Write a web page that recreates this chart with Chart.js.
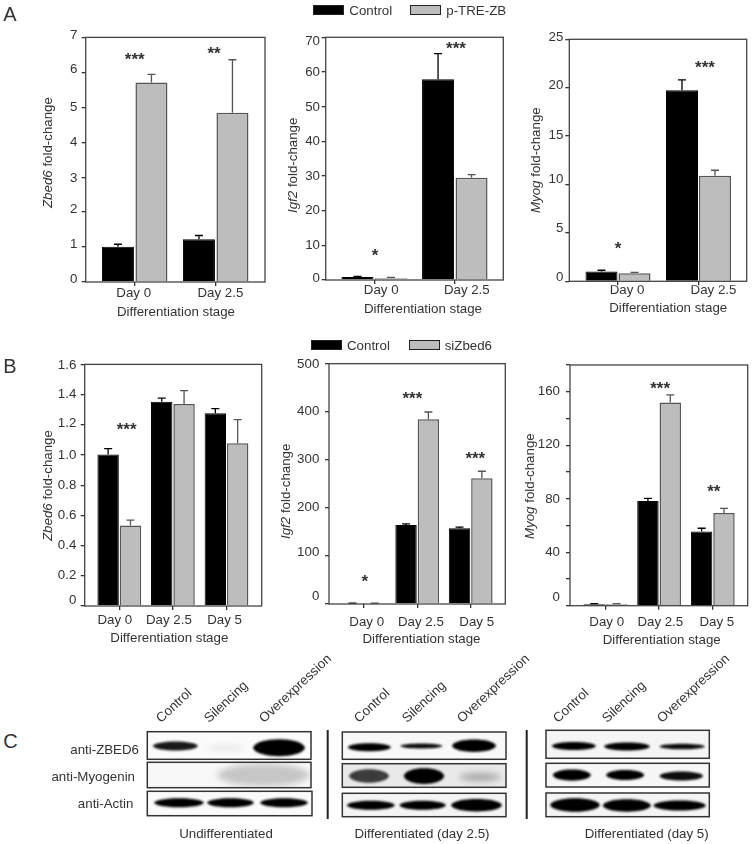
<!DOCTYPE html>
<html>
<head>
<meta charset="utf-8">
<script src="https://cdn.jsdelivr.net/npm/chart.js@4"></script>
<style>
  html, body { margin: 0; background: #fff; }
  #page { position: relative; width: 752px; height: 844px; overflow: hidden; }
  canvas { position: absolute; }
  .t { position: absolute; white-space: nowrap; line-height: 1; color: #333;
       font: 13.3px "Liberation Sans", Arial, sans-serif; }
  .letter { font-size: 20px; }
  .swatch { position: absolute; box-sizing: border-box; height: 10px; border: 1.5px solid #222; }
</style>
</head>
<body>
<div id="page"></div>
<script>
// x categories
const daysA = ['Day 0', 'Day 2.5'];
const daysB = ['Day 0', 'Day 2.5', 'Day 5'];
const seriesA = ['Control', 'p-TRE-ZB'];
const seriesB = ['Control', 'siZbed6'];

// panel A values
const zbedAControl = [1.01, 1.22];
const zbedAOver = [5.71, 4.84];
const zbedAControlErr = [0.07, 0.11];
const zbedAOverErr = [0.23, 1.52];
const igfAControl = [0.9, 57.9];
const igfAOver = [0.5, 29.5];
const igfAControlErr = [0.15, 7.4];
const igfAOverErr = [0.25, 0.9];
const myogAControl = [1.0, 19.73];
const myogAOver = [0.83, 10.9];
const myogAControlErr = [0.14, 1.07];
const myogAOverErr = [0.1, 0.57];

// panel B values
const zbedBControl = [1.003, 1.353, 1.276];
const zbedBSi = [0.533, 1.338, 1.078];
const zbedBControlErr = [0.039, 0.024, 0.031];
const zbedBSiErr = [0.036, 0.088, 0.156];
const igfBControl = [1.5, 164.6, 157.7];
const igfBSi = [1.5, 384.3, 261.7];
const igfBControlErr = [0.5, 2.1, 2.1];
const igfBSiErr = [0.5, 15.2, 14.5];
const myogBControl = [1, 78.2, 55.4];
const myogBSi = [1, 152, 69.3];
const myogBControlErr = [0.5, 2, 2.5];
const myogBSiErr = [0.5, 5.7, 3.5];

// y ticks and their labels
const zbedATicks = [0, 1, 2, 3, 4, 5, 6, 7];
const igfATicks = [0, 10, 20, 30, 40, 50, 60, 70];
const myogATicks = [0, 5, 10, 15, 20, 25];
const zbedBTicks = [0, 0.2, 0.4, 0.6, 0.8, 1, 1.2, 1.4, 1.6];
const zbedBLabels = ['0', '0.2', '0.4', '0.6', '0.8', '1.0', '1.2', '1.4', '1.6'];
const igfBTicks = [0, 100, 200, 300, 400, 500];
const myogBTicks = [0, 20, 40, 60, 80, 100, 120, 140, 160, 180];
const myogBLabelled = [0, 40, 80, 120, 160];

// significance marks: category, value, text
const zbedAStars = [[0, 6.44, '***'], [0.98, 6.59, '**']];
const igfAStars = [[0.01, 7.8, '*'], [1.015, 67.5, '***']];
const myogAStars = [[0, 3.65, '*'], [1.08, 22.3, '***']];
const zbedBStars = [[0.137, 1.183, '***']];
const igfBStars = [[0.02, 52, '*'], [0.91, 432, '***'], [2.086, 308, '***']];
const myogBStars = [[1.02, 164.4, '***'], [2.02, 87.4, '**']];

// layout of each plot, plot = left, top, right, bottom in page pixels
const panels = [
  { plot: [85.7, 37.3, 265, 282], c0: 134.7, step: 81, group: 67, bar: 32, cats: daysA,
    control: zbedAControl, treated: zbedAOver, controlErr: zbedAControlErr, treatedErr: zbedAOverErr,
    names: seriesA, yMax: 7, yTicks: zbedATicks, yLabelled: zbedATicks,
    yNudge: [-2.7, -2.7, -2.7, 0.7, -0.3, 0, -3, -2.3], yPad: 4.4, xNudge: [-1, 4.7], xPad: -1,
    stars: zbedAStars, gene: 'Zbed6', yTitle: [47, 153], xTitle: [176, 311] },
  { plot: [325.7, 37.3, 503.3, 280], c0: 374.2, step: 80.6, group: 67, bar: 32, cats: daysA,
    control: igfAControl, treated: igfAOver, controlErr: igfAControlErr, treatedErr: igfAOverErr,
    names: seriesA, yMax: 70, yTicks: igfATicks, yLabelled: igfATicks,
    yNudge: [-1.7, 0.3, 0, 0.7, 0.3, 0.7, 0.3, 4], yPad: 1.7, xNudge: [7, 12], xPad: -2,
    stars: igfAStars, gene: 'Igf2', yTitle: [291.7, 165], xTitle: [423, 307.7] },
  { plot: [569.3, 39.3, 746.7, 281.3], c0: 618, step: 80.5, group: 66, bar: 32, cats: daysA,
    control: myogAControl, treated: myogAOver, controlErr: myogAControlErr, treatedErr: myogAOverErr,
    names: seriesA, yMax: 25, yTicks: myogATicks, yLabelled: myogATicks,
    yNudge: [-3.7, -4.7, -4.7, -1, -2.7, -1.7], yPad: 2, xNudge: [9, 15], xPad: -3,
    stars: myogAStars, gene: 'Myog', yTitle: [535, 160], xTitle: [668.2, 307.3] },
  { plot: [84.7, 364, 261.7, 606], c0: 119.3, step: 53.6, group: 44.7, bar: 21.4, cats: daysB,
    control: zbedBControl, treated: zbedBSi, controlErr: zbedBControlErr, treatedErr: zbedBSiErr,
    names: seriesB, yMax: 1.6, yTicks: zbedBTicks, yLabelled: zbedBTicks, yText: zbedBLabels,
    yNudge: [-5.3, -0.3, -0.3, -0.3, -0.3, 0.3, -1, -0.3, 1], yPad: 4.4, xNudge: [-4.5, -4, -2], xPad: 2,
    stars: zbedBStars, gene: 'Zbed6', yTitle: [47, 486], xTitle: [169.3, 637.3] },
  { plot: [329, 362, 505.3, 604], c0: 363.7, step: 53.5, group: 44.7, bar: 21.4, cats: daysB,
    control: igfBControl, treated: igfBSi, controlErr: igfBControlErr, treatedErr: igfBSiErr,
    names: seriesB, yMax: 500, yTicks: igfBTicks, yLabelled: igfBTicks,
    yNudge: [-7.3, -4, -0.7, 0, 0, 0.7], yPad: 5.7, xNudge: [3, 3.7, 6], xPad: 6,
    stars: igfBStars, gene: 'Igf2', yTitle: [285, 491], xTitle: [421.5, 638.3] },
  { plot: [570, 363.3, 747.7, 605.7], c0: 605.4, step: 53.7, group: 44.7, bar: 21.4, cats: daysB,
    control: myogBControl, treated: myogBSi, controlErr: myogBControlErr, treatedErr: myogBSiErr,
    names: seriesB, yMax: 180, yTicks: myogBTicks, yLabelled: myogBLabelled,
    yNudge: [-8, 0, 0.3, -0.7, -0.3], yPad: 6, xNudge: [1.3, 1.2, 4], xPad: 4.5,
    stars: myogBStars, gene: 'Myog', yTitle: [528.7, 486], xTitle: [661.7, 638.7] }
];

// western blot rows: x0, x1, top, bottom, background
const blotFrames = [
  [147.3, 311, 731.7, 759.3, '#fbfbfb'], [147.3, 311, 762.3, 787.7, '#f8f8f8'], [147.3, 312, 791.3, 815.7, '#fafafa'],
  [342.3, 506, 732, 759.3, '#f8f8f8'], [342.3, 506, 763.7, 787.3, '#e9e9e9'], [342.3, 506, 793.3, 816.7, '#f4f4f4'],
  [546, 709.3, 730.3, 758.3, '#f5f5f5'], [546, 709.3, 763.3, 787, '#f7f7f7'], [546, 709.3, 793, 816.7, '#f4f4f4']
];
// blot bands: x0, x1, centre y, height, darkness
const blotBands = [
  [152.7, 198, 746, 8, 0.9], [205, 245, 748, 4, 0.1], [253, 305, 747.7, 15, 1],
  [217, 310, 775, 20, 0.2], [154, 204, 802.7, 8, 1], [207, 254, 802.7, 8, 1], [260, 308, 802.7, 8, 1],
  [347.7, 391, 747.3, 7, 1], [400, 442.7, 746, 4.5, 0.95], [452, 496, 745.7, 11, 1],
  [349, 389, 776, 12, 0.75], [403.7, 444.3, 776, 14, 1], [459, 501, 777, 7, 0.28],
  [346.7, 395, 805.3, 8, 1], [399.3, 446, 805.3, 8, 1], [451, 502, 805.3, 11, 1],
  [551.7, 596, 746, 7, 1], [604, 650, 746.5, 7, 1], [659.3, 705, 746.5, 5, 0.95],
  [552.7, 591, 775, 10, 1], [606, 644.3, 775, 9, 1], [659.3, 703.3, 776, 8, 0.95],
  [550, 600, 805, 12, 1], [602.7, 651, 805.5, 11, 1], [653.3, 706, 805.5, 9, 1]
];
const blotDividers = [327.7, 526.7];
const blotLanes = ['Control', 'Silencing', 'Overexpression'];
const blotLaneAnchors = [[158, 720], [206, 720], [261, 720], [356, 720], [404, 720], [459, 720], [555, 720], [604, 720], [659, 720]];
const blotRowNames = [['anti-ZBED6', 139, 749], ['anti-Myogenin', 135, 776], ['anti-Actin', 133.3, 803.3]];
const blotCaptions = [['Undifferentiated', 226], ['Differentiated (day 2.5)', 422], ['Differentiated (day 5)', 646.7]];

const page = document.getElementById('page');
const inkColor = '#333';
const frameColor = '#444';
const greyFill = '#bdbdbd';
const greyEdge = '#555';

Chart.defaults.font.family = '"Liberation Sans", Arial, sans-serif';
Chart.defaults.font.size = 13.3;
Chart.defaults.color = inkColor;

function addText(html, x, y, transform, cls) {
  const el = document.createElement('div');
  el.className = 't' + (cls ? ' ' + cls : '');
  el.innerHTML = html;
  el.style.left = x + 'px';
  el.style.top = y + 'px';
  el.style.transform = transform || 'translate(-50%,-50%)';
  page.appendChild(el);
  return el;
}

// rotated title centred on x, y, snapped to whole pixels so it stays thin
function addYTitle(html, x, y) {
  const el = addText(html, 0, 0, 'none');
  const len = el.getBoundingClientRect().width;
  el.style.transformOrigin = '0 0';
  el.style.left = Math.round(x - 7) + 'px';
  el.style.top = Math.round(y + len / 2) + 'px';
  el.style.transform = 'rotate(-90deg)';
}

function addLegend(names, y, x1, x2) {
  [x1, x2].forEach((x, i) => {
    const sw = document.createElement('div');
    sw.className = 'swatch';
    sw.style.cssText = `left:${x}px;top:${y - 5}px;width:31px;background:${i ? greyFill : '#000'}`;
    page.appendChild(sw);
    addText(names[i], x + 36, y, 'translate(0,-50%)');
  });
}

// frame, error bars and stars are drawn through the chart's own scales
const extras = {
  id: 'extras',
  afterDatasetsDraw(chart, args, opts) {
    const { ctx, chartArea: a, scales: { x, y } } = chart;
    ctx.save();
    ctx.lineWidth = 1.3;
    [opts.controlErr, opts.treatedErr].forEach((errs, d) => {
      ctx.strokeStyle = d ? greyEdge : '#000';
      chart.getDatasetMeta(d).data.forEach((bar, i) => {
        const val = chart.data.datasets[d].data[i].y;
        const py = y.getPixelForValue(val + errs[i]);
        ctx.beginPath();
        ctx.moveTo(bar.x, y.getPixelForValue(val));
        ctx.lineTo(bar.x, py);
        ctx.moveTo(bar.x - 4, py);
        ctx.lineTo(bar.x + 4, py);
        ctx.stroke();
      });
    });
    ctx.strokeStyle = frameColor;
    ctx.strokeRect(a.left, a.top, a.right - a.left, a.bottom - a.top);
    ctx.fillStyle = inkColor;
    ctx.font = 'bold 17px "Liberation Sans", Arial, sans-serif';
    ctx.textAlign = 'center';
    ctx.textBaseline = 'middle';
    opts.stars.forEach(s => ctx.fillText(s[2], x.getPixelForValue(s[0]), y.getPixelForValue(s[1]) + 3));
    ctx.restore();
  }
};

function fixedTicks(values) {
  return scale => { scale.ticks = values.map(v => ({ value: v })); };
}

function makePanel(p) {
  const [l, t, r, b] = p.plot;
  const room = { left: 60, top: 12, right: 4, bottom: 30 };
  const cx = Math.floor(l - room.left), cy = Math.floor(t - room.top);
  const w = Math.ceil(r + room.right) - cx, h = Math.ceil(b + room.bottom) - cy;
  const cv = document.createElement('canvas');
  cv.width = w; cv.height = h;
  cv.style.left = cx + 'px'; cv.style.top = cy + 'px';
  page.appendChild(cv);

  const xMin = -(p.c0 - l) / p.step, xMax = (r - p.c0) / p.step;
  const perPx = p.yMax / (b - t);
  const xLabelPos = p.cats.map((c, i) => i + p.xNudge[i] / p.step);
  const yLabelPos = p.yLabelled.map((v, i) => v - p.yNudge[i] * perPx);
  const catIdx = p.cats.map((c, i) => i);
  const rows = vals => vals.map((v, i) => ({ x: i, y: v }));
  const tick = { color: inkColor, drawOnChartArea: false, tickLength: 4, lineWidth: 1.3, offset: false };
  const off = { display: false, drawTicks: false, offset: false };

  new Chart(cv, {
    type: 'bar',
    data: {
      datasets: [
        { label: p.names[0], data: rows(p.control), backgroundColor: '#000', borderColor: '#000', borderWidth: 1 },
        { label: p.names[1], data: rows(p.treated), backgroundColor: greyFill, borderColor: greyEdge, borderWidth: 1.5 }
      ]
    },
    options: {
      responsive: false,
      animation: false,
      categoryPercentage: p.group / p.step,
      barPercentage: p.bar / (p.group / 2),
      layout: { padding: { left: 0, top: t - cy, right: cx + w - r, bottom: 0 } },
      plugins: {
        legend: { display: false },
        tooltip: { enabled: false },
        extras: { controlErr: p.controlErr, treatedErr: p.treatedErr, stars: p.stars }
      },
      scales: {
        x: {
          type: 'linear', min: xMin, max: xMax, offset: false, weight: 0,
          grid: tick, border: { display: false }, ticks: { display: false },
          afterBuildTicks: fixedTicks(catIdx),
          afterFit: s => { s.height = 4; }
        },
        xLabel: {
          type: 'linear', axis: 'x', position: 'bottom', min: xMin, max: xMax, offset: false, weight: 1,
          grid: off, border: { display: false },
          ticks: { padding: p.xPad, maxRotation: 0, autoSkip: false, callback: (v, i) => p.cats[i] },
          afterBuildTicks: fixedTicks(xLabelPos),
          afterFit: s => { s.height = cy + h - b - 4; }
        },
        y: {
          type: 'linear', min: 0, max: p.yMax, weight: 0,
          grid: tick, border: { display: false }, ticks: { display: false },
          afterBuildTicks: fixedTicks(p.yTicks),
          afterFit: s => { s.width = 4; }
        },
        yLabel: {
          type: 'linear', axis: 'y', position: 'left', min: 0, max: p.yMax, weight: 1,
          grid: off, border: { display: false },
          ticks: { padding: p.yPad, autoSkip: false, callback: (v, i) => (p.yText || p.yLabelled)[i] },
          afterBuildTicks: fixedTicks(yLabelPos),
          afterFit: s => { s.width = l - cx - 4; }
        }
      }
    },
    plugins: [extras]
  });

  addYTitle(`<i>${p.gene}</i> fold-change`, p.yTitle[0], p.yTitle[1]);
  addText('Differentiation stage', p.xTitle[0], p.xTitle[1]);
}

panels.forEach(makePanel);

addLegend(seriesA, 9.5, 313.3, 410.3);
addLegend(seriesB, 345, 311, 408.7);
addText('A', 10, 14, null, 'letter');
addText('B', 10, 366, null, 'letter');
addText('C', 10.5, 741, null, 'letter');

// blots, on a page wide chart with hidden pixel scales
const blotCanvas = document.createElement('canvas');
blotCanvas.width = 752; blotCanvas.height = 844;
blotCanvas.style.left = '0'; blotCanvas.style.top = '0';
page.appendChild(blotCanvas);

const blotDraw = {
  id: 'blotDraw',
  afterDraw(chart) {
    const { ctx, scales: { x, y } } = chart;
    blotFrames.forEach(f => {
      const [fx0, fx1, fy0, fy1] = [x.getPixelForValue(f[0]), x.getPixelForValue(f[1]), y.getPixelForValue(f[2]), y.getPixelForValue(f[3])];
      ctx.save();
      ctx.beginPath();
      ctx.rect(fx0, fy0, fx1 - fx0, fy1 - fy0);
      ctx.fillStyle = f[4];
      ctx.fill();
      ctx.clip();
      blotBands.forEach(b => {
        if (b[2] < f[2] || b[2] > f[3] || b[0] < f[0] || b[1] > f[1]) return;
        const x0 = x.getPixelForValue(b[0]), x1 = x.getPixelForValue(b[1]);
        const yc = y.getPixelForValue(b[2]), half = b[3] / 2 * 1.5, bend = (x1 - x0) * 0.06;
        ctx.filter = b[4] < 0.5 ? 'blur(3px)' : 'blur(1.2px)';
        ctx.fillStyle = `rgba(0,0,0,${b[4]})`;
        ctx.beginPath();
        ctx.moveTo(x0, yc);
        ctx.bezierCurveTo(x0 + bend, yc - half, x1 - bend, yc - half, x1, yc);
        ctx.bezierCurveTo(x1 - bend, yc + half, x0 + bend, yc + half, x0, yc);
        ctx.fill();
      });
      ctx.restore();
      ctx.strokeStyle = '#333';
      ctx.lineWidth = 1.5;
      ctx.strokeRect(fx0, fy0, fx1 - fx0, fy1 - fy0);
    });
    ctx.fillStyle = '#222';
    blotDividers.forEach(d => ctx.fillRect(x.getPixelForValue(d) - 1, y.getPixelForValue(730), 2, y.getPixelForValue(819) - y.getPixelForValue(730)));
  }
};

new Chart(blotCanvas, {
  type: 'bar',
  data: { datasets: [] },
  options: {
    responsive: false,
    animation: false,
    layout: { padding: 0 },
    plugins: { legend: { display: false }, tooltip: { enabled: false } },
    scales: {
      x: { type: 'linear', display: false, min: 0, max: 752, offset: false },
      y: { type: 'linear', display: false, min: 0, max: 844, reverse: true }
    }
  },
  plugins: [blotDraw]
});

blotLaneAnchors.forEach((a, i) => {
  const el = addText(blotLanes[i % 3], a[0], a[1], 'translate(0,-50%) rotate(-43deg)');
  el.style.transformOrigin = '0 50%';
});
blotRowNames.forEach(n => addText(n[0], n[1], n[2], 'translate(-100%,-50%)'));
blotCaptions.forEach(c => addText(c[0], c[1], 833));
</script>
</body>
</html>
